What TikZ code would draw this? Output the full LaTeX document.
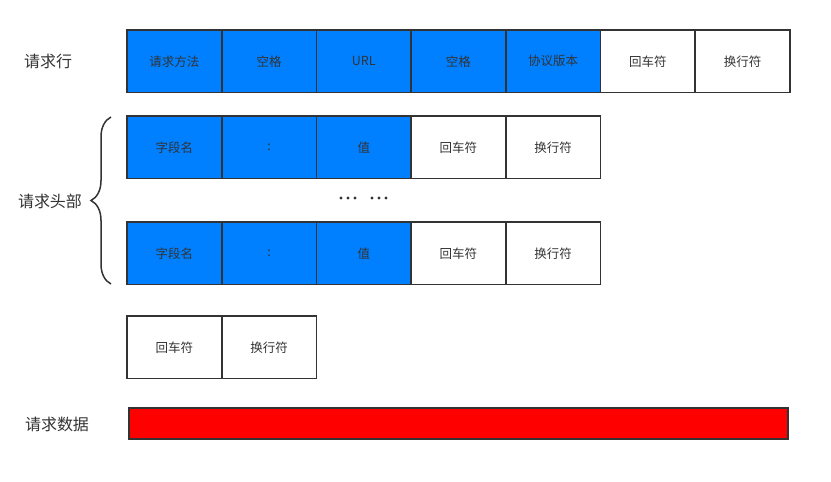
\documentclass[tikz,border=0pt]{standalone}
\usepackage{fontspec}
\newfontfamily\cjk{Noto Sans CJK SC}
\usetikzlibrary{calc,decorations.pathreplacing}
\definecolor{fieldblue}{HTML}{007FFF}
\definecolor{edgegray}{HTML}{333333}
\newcommand{\cw}{94.7}
\newcommand{\ch}{62.5}

\begin{document}
\begin{tikzpicture}[x=1pt,y=-1pt,
  cell/.style={draw=edgegray,line width=1.6pt,minimum width=\cw pt,minimum height=\ch pt,
    inner sep=0pt,outer sep=0pt,anchor=north west,text=edgegray,
    font=\cjk\fontsize{12.5}{14}\selectfont},
  blue cell/.style={cell,fill=fieldblue},
  white cell/.style={cell,fill=white},
  rowlabel/.style={text=edgegray,font=\cjk\fontsize{16}{18}\selectfont}]
\useasboundingbox (0,0) rectangle (831,482);
% request line
\foreach \t/\s [count=\i from 0] in {请求方法/blue cell,空格/blue cell,URL/blue cell,空格/blue cell,
    协议版本/blue cell,回车符/white cell,换行符/white cell}
  \node[\s] (line\i) at (127+\i*\cw,30) {\t};
% header lines
\foreach \y/\n in {116/headA,222/headB}
  \foreach \t/\s [count=\i from 0] in {字段名/blue cell,:/blue cell,值/blue cell,回车符/white cell,换行符/white cell}
    \node[\s] (\n\i) at (127+\i*\cw,\y) {\t};
\foreach \x in {341,348,355,372,379,386}
  \fill[edgegray] (\x,198) circle (1.7);
% empty line
\node[white cell] (end0) at (127,316) {回车符};
\node[white cell] (end1) at (127+\cw,316) {换行符};
% body
\node[draw=edgegray,line width=1.6pt,fill=red,inner sep=0pt,outer sep=0pt,anchor=north west,
  minimum width=659pt,minimum height=31pt] (body) at (129,408) {};
% labels
\node[rowlabel] (lineLabel) at (48,61) {请求行};
\node[rowlabel] (headLabel) at (50,201) {请求头部};
\node[rowlabel] (bodyLabel) at (57,424) {请求数据};
\coordinate (braceBot) at (111,284);
\coordinate (braceTop) at (111,117);
\draw[edgegray,line width=1.5pt,decorate,decoration={brace,amplitude=20pt}] (braceBot) -- (braceTop);
\end{tikzpicture}
\end{document}
